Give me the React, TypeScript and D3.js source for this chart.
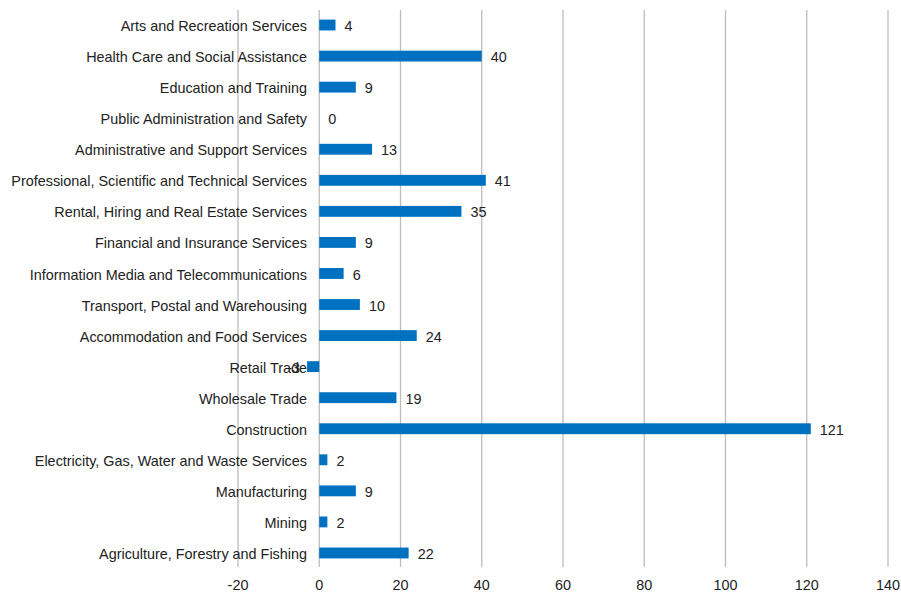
import React from "react";
import * as d3 from "d3";

const categories = [
  "Arts and Recreation Services",
  "Health Care and Social Assistance",
  "Education and Training",
  "Public Administration and Safety",
  "Administrative and Support Services",
  "Professional, Scientific and Technical Services",
  "Rental, Hiring and Real Estate Services",
  "Financial and Insurance Services",
  "Information Media and Telecommunications",
  "Transport, Postal and Warehousing",
  "Accommodation and Food Services",
  "Retail Trade",
  "Wholesale Trade",
  "Construction",
  "Electricity, Gas, Water and Waste Services",
  "Manufacturing",
  "Mining",
  "Agriculture, Forestry and Fishing",
];
const values = [4, 40, 9, 0, 13, 41, 35, 9, 6, 10, 24, -3, 19, 121, 2, 9, 2, 22];
const ticks = [-20, 0, 20, 40, 60, 80, 100, 120, 140];

export default function App() {
  const W = 901, H = 594;
  const x = d3.scaleLinear().domain([-20, 140]).range([238, 888]);
  const y = d3.scaleBand<string>().domain(categories).range([9.5, 568.5]).paddingInner(0.65).paddingOuter(0.325);
  const font = "'Liberation Sans', Arial, sans-serif";
  const fs = 14.4;
  return (
    <svg width={W} height={H} style={{ position: "absolute", left: 0, top: 0, background: "#fff" }}>
      {ticks.map((t) => (
        <g key={t}>
          <line x1={x(t)} x2={x(t)} y1={10} y2={567} stroke="#bdbdbd" strokeWidth={1.3} />
          <text x={x(t)} y={590} textAnchor="middle" fontFamily={font} fontSize={fs} fill="#222">{t}</text>
        </g>
      ))}
      {categories.map((c, i) => {
        const v = values[i];
        const y0 = y(c)!;
        const bh = y.bandwidth();
        const cy = y0 + bh / 2 + 1;
        const x0 = x(Math.min(0, v));
        const x1 = x(Math.max(0, v));
        return (
          <g key={c}>
            <text x={307} y={cy} dy="0.35em" textAnchor="end" fontFamily={font} fontSize={fs} fill="#222">{c}</text>
            {v !== 0 && <rect x={x0} y={y0} width={x1 - x0} height={bh} fill="#0070C0" />}
            <text
              x={v >= 0 ? x(v) + 9 : x(v) - 7}
              y={cy}
              dy="0.35em"
              textAnchor={v >= 0 ? "start" : "end"}
              fontFamily={font}
              fontSize={fs}
              fill="#222"
            >{v}</text>
          </g>
        );
      })}
    </svg>
  );
}
